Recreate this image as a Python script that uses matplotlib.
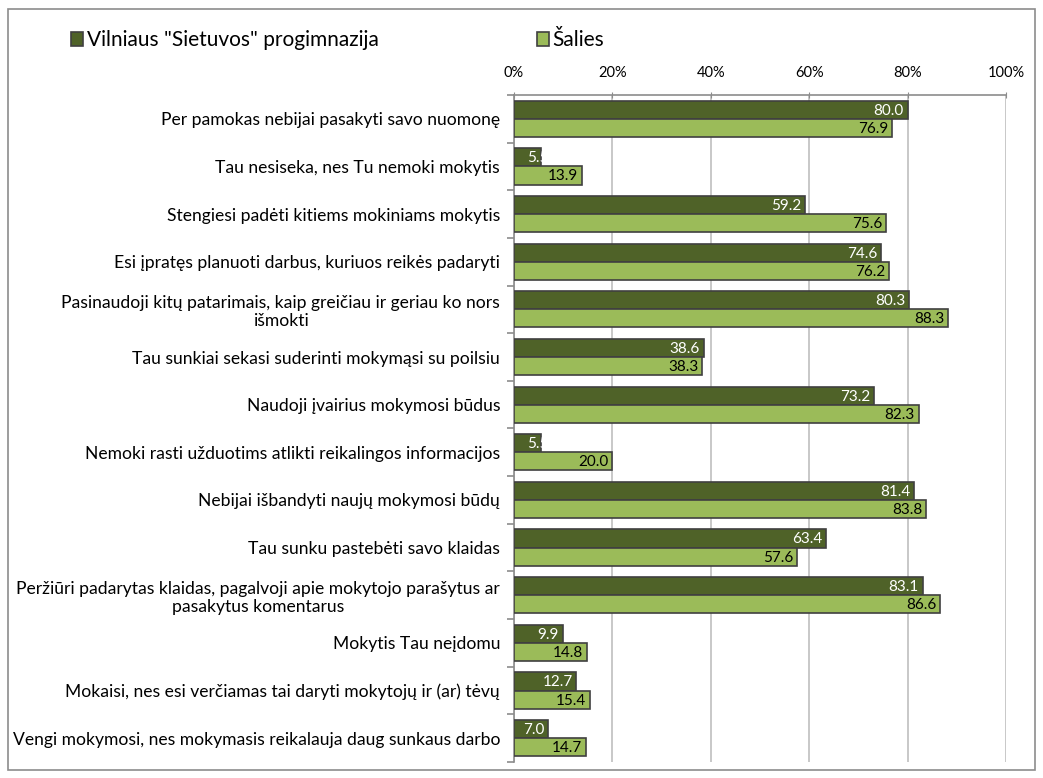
import numpy as np
import matplotlib.pyplot as plt
from matplotlib.patches import Rectangle

plt.rcParams['font.family'] = ['Lato', 'DejaVu Sans']

# Categories (top to bottom) and the two series, in percent
categories = [
    "Per pamokas nebijai pasakyti savo nuomonę",
    "Tau nesiseka, nes Tu nemoki mokytis",
    "Stengiesi padėti kitiems mokiniams mokytis",
    "Esi įpratęs planuoti darbus, kuriuos reikės padaryti",
    "Pasinaudoji kitų patarimais, kaip greičiau ir geriau ko nors\nišmokti",
    "Tau sunkiai sekasi suderinti mokymąsi su poilsiu",
    "Naudoji įvairius mokymosi būdus",
    "Nemoki rasti užduotims atlikti reikalingos informacijos",
    "Nebijai išbandyti naujų mokymosi būdų",
    "Tau sunku pastebėti savo klaidas",
    "Peržiūri padarytas klaidas, pagalvoji apie mokytojo parašytus ar\npasakytus komentarus",
    "Mokytis Tau neįdomu",
    "Mokaisi, nes esi verčiamas tai daryti mokytojų ir (ar) tėvų",
    "Vengi mokymosi, nes mokymasis reikalauja daug sunkaus darbo",
]
school = [80.0, 5.5, 59.2, 74.6, 80.3, 38.6, 73.2, 5.5, 81.4, 63.4, 83.1, 9.9, 12.7, 7.0]
country = [76.9, 13.9, 75.6, 76.2, 88.3, 38.3, 82.3, 20.0, 83.8, 57.6, 86.6, 14.8, 15.4, 14.7]
series_names = ['Vilniaus "Sietuvos" progimnazija', 'Šalies']

dark = '#4F6228'
light = '#9BBB59'
edge = '#404040'

fig = plt.figure(figsize=(10.43, 7.78), dpi=100)
ax = fig.add_axes([0.4928, 0.0206, 0.4717, 0.8573])

# outer chart border
fig.patches.append(Rectangle((0.008, 0.01), 0.984, 0.979, transform=fig.transFigure,
                             fill=False, edgecolor='#8c8c8c', linewidth=1.2))

n = len(categories)
y = np.arange(n)
h = 0.38
b1 = ax.barh(y - h / 2, school, height=h, color=dark, edgecolor=edge, linewidth=1.2,
             label=series_names[0], zorder=3)
b2 = ax.barh(y + h / 2, country, height=h, color=light, edgecolor=edge, linewidth=1.2,
             label=series_names[1], zorder=3)

# value labels inside the bar ends, clipped to the bar like the original
for bars, vals, col in [(b1, school, 'white'), (b2, country, 'black')]:
    for bar, v in zip(bars, vals):
        t = ax.text(v - 0.8, bar.get_y() + bar.get_height() / 2 + 0.02, f"{v:.1f}",
                    ha='right', va='center', color=col, fontsize=11, zorder=4)
        if v < 7:
            t.set_x(bar.get_x() + 2.6)
            t.set_ha('left')
            t.set_clip_path(bar)

ax.set_xlim(0, 100)
ax.set_ylim(n - 0.5, -0.5)
ax.xaxis.tick_top()
ax.set_xticks(np.arange(0, 101, 20))
ax.set_xticklabels([f"{x}%" for x in range(0, 101, 20)], fontsize=10.5)
ax.tick_params(axis='x', length=5, color='#8c8c8c', pad=8, direction='inout')
ax.grid(axis='x', color='#bfbfbf', linewidth=1.2, zorder=0)

ax.set_yticks(y)
ax.set_yticklabels(categories, fontsize=12.6, multialignment='center')
ax.tick_params(axis='y', length=0, pad=10)
ax.set_yticks(np.arange(-0.5, n, 1), minor=True)
ax.tick_params(axis='y', which='minor', length=5, color='#8c8c8c', width=1.2)

for s in ['right', 'bottom']:
    ax.spines[s].set_visible(False)
for s in ['left', 'top']:
    ax.spines[s].set_color('#8c8c8c')
    ax.spines[s].set_linewidth(1.2)

fig.legend(handles=[b1, b2], labels=series_names, loc='upper left',
           bbox_to_anchor=(0.05, 0.985), ncol=2, frameon=False, fontsize=15,
           handlelength=0.6, handleheight=0.6, handletextpad=0.15, columnspacing=7.6)

fig.savefig("out.png", dpi=100)
